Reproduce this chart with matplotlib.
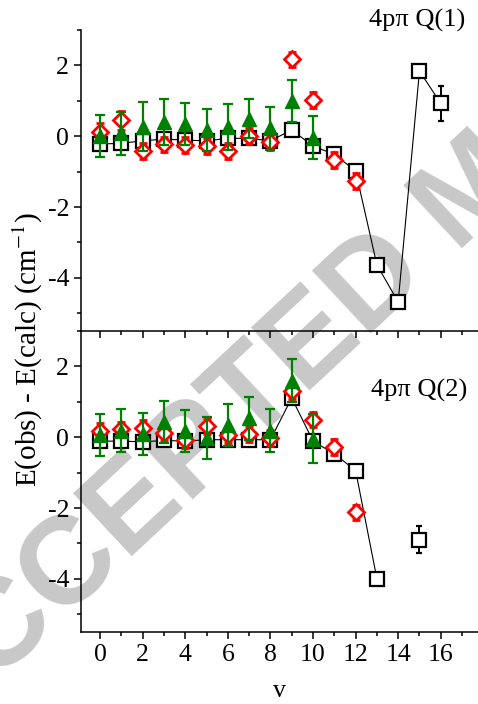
import numpy as np
import matplotlib
matplotlib.use('Agg')
import matplotlib.pyplot as plt
from matplotlib.ticker import MultipleLocator

plt.rcParams['font.family'] = ['Liberation Serif', 'DejaVu Serif']
plt.rcParams['mathtext.fontset'] = 'stix'
plt.rcParams['axes.unicode_minus'] = False

# ---- Q(1) branch ----
v1_sq   = np.arange(0, 17)
q1_sq   = [-0.22, -0.20, -0.13, -0.08, -0.11, -0.13, -0.06, -0.06, -0.13,
           0.18, -0.28, -0.51, -0.98, -3.63, -4.68, 1.84, 0.93]
q1_sqe  = [0.10, 0.10, 0.10, 0.10, 0.10, 0.10, 0.10, 0.10, 0.10,
           0.10, 0.10, 0.10, 0.10, 0.10, 0.10, 0.10, 0.49]

v1_di   = np.arange(0, 13)
q1_di   = [0.12, 0.45, -0.41, -0.23, -0.25, -0.27, -0.41, 0.01, -0.16,
           2.17, 1.02, -0.67, -1.26]
q1_die  = [0.25, 0.27, 0.22, 0.22, 0.22, 0.22, 0.22, 0.22, 0.22,
           0.22, 0.22, 0.22, 0.22]

v1_tr   = np.arange(0, 11)
q1_tr   = [0.01, 0.08, 0.27, 0.40, 0.34, 0.18, 0.27, 0.50, 0.22, 1.00, -0.04]
q1_tre  = [0.60, 0.60, 0.70, 0.66, 0.60, 0.60, 0.65, 0.55, 0.60, 0.59, 0.60]

# ---- Q(2) branch ----
v2_sq   = [0, 1, 2, 3, 4, 5, 6, 7, 8, 9, 10, 11, 12, 13]
q2_sq   = [-0.11, -0.11, -0.13, -0.09, -0.11, -0.07, -0.07, -0.07, -0.07,
           1.11, -0.11, -0.47, -0.94, -3.99]
q2_sqe  = [0.10] * 14
v2_iso  = [15]
q2_iso  = [-2.90]
q2_isoe = [0.38]

v2_di   = np.arange(0, 13)
q2_di   = [0.19, 0.22, 0.26, 0.12, -0.09, 0.31, 0.06, 0.09, -0.02,
           1.30, 0.50, -0.28, -2.12]
q2_die  = [0.22] * 13

v2_tr   = np.arange(0, 11)
q2_tr   = [0.06, 0.19, 0.09, 0.43, 0.17, -0.02, 0.34, 0.53, 0.19, 1.60, -0.04]
q2_tre  = [0.60, 0.60, 0.60, 0.60, 0.60, 0.60, 0.60, 0.60, 0.60, 0.60, 0.70]

xticks = [0, 2, 4, 6, 8, 10, 12, 14, 16]
yticks = [-4, -2, 0, 2]

W, H = 478, 704
fig = plt.figure(figsize=(W/100, H/100), dpi=100)

# watermark behind the axes
fig.text(-0.15, -0.06, 'ACCEPTED MANUSCRIPT', fontsize=90, color='#c8c8c8',
         family='Liberation Sans', weight='bold', rotation=43,
         rotation_mode='anchor', ha='left', va='baseline', zorder=-5)

axl = 81 / W
axw = 1.0 - axl
axh = 301 / H
ax1 = fig.add_axes([axl, (H - 331) / H, axw, axh])
ax2 = fig.add_axes([axl, (H - 632) / H, axw, axh])

sq_kw = dict(fmt='s', ms=9.5, mfc='white', mec='black', mew=1.6, color='black',
             ecolor='black', elinewidth=1.4, capsize=2.5, capthick=1.4, zorder=3)
di_kw = dict(fmt='D', ms=8, mfc='white', mec='red', mew=2.0,
             ecolor='red', elinewidth=1.6, capsize=3, capthick=1.6, zorder=4)
tr_kw = dict(fmt='^', ms=10, mfc='green', mec='green',
             ecolor='green', elinewidth=1.6, capsize=3.5, capthick=1.6, zorder=5)

ax1.plot(v1_sq, q1_sq, '-', color='black', lw=0.8, zorder=2)
ax1.errorbar(v1_sq, q1_sq, yerr=q1_sqe, **sq_kw)
ax1.errorbar(v1_di, q1_di, yerr=q1_die, **di_kw)
ax1.errorbar(v1_tr, q1_tr, yerr=q1_tre, **tr_kw)

ax2.plot(v2_sq, q2_sq, '-', color='black', lw=0.8, zorder=2)
ax2.errorbar(v2_sq, q2_sq, yerr=q2_sqe, **sq_kw)
ax2.errorbar(v2_iso, q2_iso, yerr=q2_isoe, **sq_kw)
ax2.errorbar(v2_di, q2_di, yerr=q2_die, **di_kw)
ax2.errorbar(v2_tr, q2_tr, yerr=q2_tre, **tr_kw)

for ax in (ax1, ax2):
    ax.set_facecolor('none')
    ax.set_xlim(-0.9, 17.75)
    ax.set_ylim(-5.5, 3.0)
    ax.set_xticks(xticks)
    ax.set_yticks(yticks)
    ax.xaxis.set_minor_locator(MultipleLocator(1))
    ax.yaxis.set_minor_locator(MultipleLocator(1))
    ax.spines['right'].set_visible(False)
    ax.spines['top'].set_visible(False)
    for s in ax.spines.values():
        s.set_linewidth(1.1)
    ax.tick_params(which='both', direction='out', width=1.1, labelsize=18.5,
                   top=False, right=False)
    ax.tick_params(which='major', length=5)
    ax.tick_params(which='minor', length=3)

ax1.tick_params(axis='x', labelbottom=False)
ax2.set_xlabel('v', fontsize=18.5, labelpad=10)

fig.text(465 / W, 1 - 27 / H, '4pπ Q(1)', fontsize=19, ha='right', va='baseline')
fig.text(467 / W, 1 - 397 / H, '4pπ Q(2)', fontsize=19, ha='right', va='baseline')
fig.text(28 / W, 1 - 350 / H, 'E(obs) - E(calc) (cm$^{-1}$)', fontsize=21,
         rotation=90, ha='center', va='center')

fig.savefig('out.png', dpi=100)
